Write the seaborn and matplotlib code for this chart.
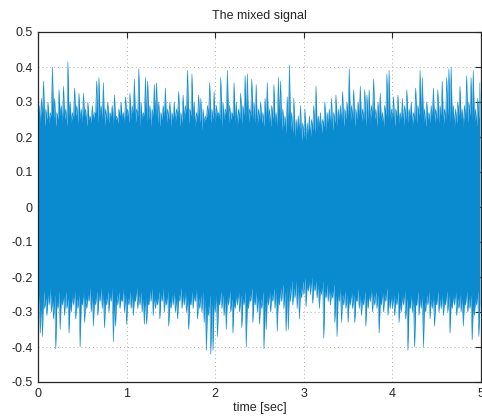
import numpy as np
import pandas as pd
import matplotlib
matplotlib.use("Agg")
import matplotlib.pyplot as plt
import seaborn as sns

# ---------------- data ----------------
title = "The mixed signal"
xlabel = "time [sec]"
x_ticks = [0, 1, 2, 3, 4, 5]
y_ticks = [-0.5, -0.4, -0.3, -0.2, -0.1, 0, 0.1, 0.2, 0.3, 0.4, 0.5]
y_tick_labels = ["-0.5", "-0.4", "-0.3", "-0.2", "-0.1", "0", "0.1", "0.2", "0.3", "0.4", "0.5"]

bin_width = 0.025  # seconds per envelope bin (200 bins over 5 s)

# tips of the upward spikes, one per bin
upper_peaks = [
    0.29, 0.31, 0.36, 0.28, 0.30, 0.27, 0.40, 0.31, 0.27, 0.335, 0.29, 0.345, 0.28, 0.415, 0.30, 0.27, 0.34, 0.29, 0.325, 0.28,
    0.325, 0.28, 0.30, 0.26, 0.29, 0.27, 0.36, 0.37, 0.29, 0.355, 0.28, 0.30, 0.27, 0.29, 0.32, 0.26, 0.28, 0.30, 0.27, 0.315,
    0.28, 0.325, 0.29, 0.365, 0.28, 0.395, 0.30, 0.27, 0.37, 0.36, 0.29, 0.28, 0.35, 0.355, 0.30, 0.27, 0.29, 0.34, 0.28, 0.30,
    0.27, 0.30, 0.28, 0.33, 0.27, 0.32, 0.29, 0.39, 0.28, 0.38, 0.30, 0.27, 0.32, 0.31, 0.28, 0.26, 0.29, 0.355, 0.28, 0.33,
    0.29, 0.27, 0.37, 0.30, 0.28, 0.39, 0.29, 0.27, 0.355, 0.30, 0.28, 0.325, 0.29, 0.375, 0.38, 0.28, 0.365, 0.30, 0.35, 0.28,
    0.30, 0.27, 0.31, 0.355, 0.28, 0.29, 0.35, 0.27, 0.37, 0.36, 0.28, 0.26, 0.315, 0.405, 0.27, 0.31, 0.25, 0.26, 0.29, 0.24,
    0.28, 0.24, 0.26, 0.25, 0.29, 0.345, 0.26, 0.27, 0.25, 0.30, 0.27, 0.28, 0.31, 0.27, 0.32, 0.28, 0.29, 0.33, 0.28, 0.30,
    0.395, 0.29, 0.335, 0.28, 0.30, 0.345, 0.28, 0.335, 0.32, 0.335, 0.29, 0.365, 0.28, 0.30, 0.325, 0.27, 0.29, 0.38, 0.39, 0.28,
    0.315, 0.28, 0.32, 0.27, 0.31, 0.29, 0.335, 0.28, 0.30, 0.27, 0.34, 0.29, 0.39, 0.37, 0.28, 0.30, 0.27, 0.29, 0.34, 0.28,
    0.335, 0.29, 0.36, 0.28, 0.37, 0.395, 0.40, 0.29, 0.28, 0.30, 0.345, 0.28, 0.29, 0.375, 0.30, 0.37, 0.39, 0.28, 0.31, 0.355,
]

# top edge of the dense part between upward spikes, one per bin
upper_base = [
    0.25, 0.24, 0.26, 0.23, 0.25, 0.24, 0.26, 0.25, 0.23, 0.25, 0.26, 0.24, 0.25, 0.23, 0.26, 0.24, 0.25, 0.26, 0.24, 0.25,
    0.24, 0.26, 0.23, 0.25, 0.24, 0.25, 0.27, 0.24, 0.26, 0.25, 0.23, 0.25, 0.24, 0.26, 0.23, 0.25, 0.24, 0.26, 0.25, 0.24,
    0.26, 0.24, 0.25, 0.27, 0.24, 0.26, 0.23, 0.25, 0.26, 0.24, 0.25, 0.23, 0.26, 0.25, 0.24, 0.23, 0.25, 0.26, 0.24, 0.25,
    0.23, 0.25, 0.24, 0.26, 0.23, 0.24, 0.25, 0.27, 0.24, 0.26, 0.25, 0.23, 0.25, 0.24, 0.22, 0.24, 0.25, 0.26, 0.24, 0.25,
    0.24, 0.26, 0.25, 0.23, 0.25, 0.27, 0.24, 0.25, 0.26, 0.24, 0.23, 0.25, 0.24, 0.26, 0.25, 0.24, 0.26, 0.25, 0.24, 0.23,
    0.25, 0.24, 0.23, 0.25, 0.24, 0.23, 0.25, 0.24, 0.23, 0.24, 0.22, 0.23, 0.21, 0.23, 0.22, 0.21, 0.20, 0.22, 0.21, 0.19,
    0.20, 0.19, 0.21, 0.20, 0.22, 0.21, 0.22, 0.23, 0.21, 0.23, 0.22, 0.24, 0.23, 0.22, 0.24, 0.23, 0.25, 0.24, 0.23, 0.25,
    0.26, 0.24, 0.25, 0.23, 0.25, 0.26, 0.24, 0.25, 0.23, 0.25, 0.24, 0.26, 0.25, 0.23, 0.25, 0.24, 0.23, 0.26, 0.25, 0.24,
    0.25, 0.23, 0.26, 0.24, 0.25, 0.23, 0.25, 0.24, 0.26, 0.23, 0.25, 0.24, 0.26, 0.25, 0.24, 0.23, 0.25, 0.24, 0.26, 0.24,
    0.25, 0.24, 0.26, 0.23, 0.25, 0.26, 0.24, 0.25, 0.23, 0.24, 0.26, 0.25, 0.23, 0.25, 0.24, 0.26, 0.25, 0.24, 0.23, 0.25,
]

# tips of the downward spikes, one per bin
lower_peaks = [
    -0.30, -0.36, -0.37, -0.29, -0.31, -0.28, -0.30, -0.32, -0.405, -0.29, -0.35, -0.28, -0.31, -0.29, -0.36, -0.30, -0.28, -0.32, -0.29, -0.40,
    -0.28, -0.33, -0.29, -0.27, -0.30, -0.34, -0.28, -0.31, -0.27, -0.29, -0.345, -0.28, -0.30, -0.27, -0.385, -0.34, -0.28, -0.29, -0.27, -0.30,
    -0.335, -0.28, -0.29, -0.31, -0.27, -0.29, -0.28, -0.30, -0.335, -0.335, -0.28, -0.27, -0.31, -0.29, -0.28, -0.32, -0.27, -0.30, -0.28, -0.34,
    -0.29, -0.28, -0.30, -0.32, -0.27, -0.29, -0.28, -0.30, -0.35, -0.28, -0.29, -0.27, -0.32, -0.29, -0.30, -0.33, -0.41, -0.31, -0.42, -0.41,
    -0.30, -0.37, -0.28, -0.29, -0.31, -0.35, -0.28, -0.30, -0.36, -0.29, -0.28, -0.30, -0.345, -0.28, -0.40, -0.29, -0.27, -0.33, -0.28, -0.30,
    -0.335, -0.29, -0.405, -0.35, -0.28, -0.30, -0.27, -0.29, -0.355, -0.28, -0.27, -0.29, -0.355, -0.35, -0.27, -0.28, -0.26, -0.29, -0.32, -0.26,
    -0.25, -0.285, -0.24, -0.25, -0.275, -0.24, -0.26, -0.29, -0.25, -0.375, -0.26, -0.27, -0.28, -0.26, -0.33, -0.37, -0.27, -0.33, -0.28, -0.29,
    -0.33, -0.28, -0.29, -0.33, -0.27, -0.29, -0.31, -0.28, -0.34, -0.29, -0.27, -0.30, -0.28, -0.29, -0.36, -0.28, -0.30, -0.27, -0.31, -0.29,
    -0.29, -0.31, -0.28, -0.33, -0.30, -0.28, -0.32, -0.41, -0.29, -0.30, -0.40, -0.28, -0.31, -0.29, -0.40, -0.30, -0.28, -0.32, -0.29, -0.34,
    -0.28, -0.30, -0.29, -0.31, -0.28, -0.30, -0.36, -0.29, -0.28, -0.31, -0.29, -0.30, -0.34, -0.28, -0.30, -0.29, -0.38, -0.31, -0.28, -0.37,
]

# bottom edge of the dense part between downward spikes, one per bin
lower_base = [
    -0.25, -0.27, -0.24, -0.26, -0.25, -0.23, -0.26, -0.25, -0.27, -0.24, -0.26, -0.25, -0.24, -0.26, -0.27, -0.25, -0.24, -0.26, -0.25, -0.27,
    -0.24, -0.26, -0.25, -0.23, -0.25, -0.26, -0.24, -0.25, -0.23, -0.25, -0.26, -0.24, -0.25, -0.23, -0.26, -0.25, -0.24, -0.26, -0.23, -0.25,
    -0.26, -0.24, -0.25, -0.26, -0.23, -0.25, -0.24, -0.26, -0.25, -0.27, -0.24, -0.23, -0.25, -0.26, -0.24, -0.25, -0.23, -0.26, -0.24, -0.27,
    -0.25, -0.24, -0.26, -0.25, -0.23, -0.25, -0.24, -0.26, -0.27, -0.24, -0.25, -0.23, -0.26, -0.25, -0.24, -0.26, -0.28, -0.25, -0.27, -0.26,
    -0.25, -0.27, -0.24, -0.25, -0.26, -0.25, -0.24, -0.26, -0.27, -0.25, -0.24, -0.25, -0.26, -0.24, -0.27, -0.25, -0.23, -0.26, -0.24, -0.25,
    -0.26, -0.24, -0.27, -0.25, -0.24, -0.25, -0.23, -0.24, -0.25, -0.23, -0.22, -0.24, -0.23, -0.22, -0.21, -0.23, -0.21, -0.22, -0.23, -0.21,
    -0.20, -0.22, -0.21, -0.20, -0.22, -0.21, -0.22, -0.23, -0.21, -0.24, -0.22, -0.23, -0.24, -0.22, -0.25, -0.24, -0.23, -0.25, -0.24, -0.25,
    -0.26, -0.24, -0.25, -0.26, -0.23, -0.25, -0.26, -0.24, -0.26, -0.25, -0.23, -0.25, -0.24, -0.25, -0.27, -0.24, -0.25, -0.23, -0.26, -0.25,
    -0.25, -0.26, -0.24, -0.27, -0.25, -0.24, -0.26, -0.28, -0.25, -0.26, -0.28, -0.24, -0.26, -0.25, -0.27, -0.25, -0.24, -0.26, -0.25, -0.27,
    -0.24, -0.26, -0.25, -0.27, -0.24, -0.25, -0.27, -0.25, -0.24, -0.26, -0.25, -0.26, -0.27, -0.24, -0.26, -0.25, -0.28, -0.26, -0.24, -0.27,
]

# ---------------- build the signal edges ----------------
n = len(upper_peaks)
times = np.arange(2 * n) * (bin_width / 2)
top_edge = np.empty(2 * n)
bottom_edge = np.empty(2 * n)
top_edge[0::2] = upper_base
top_edge[1::2] = upper_peaks
bottom_edge[0::2] = lower_peaks
bottom_edge[1::2] = lower_base
df = pd.DataFrame({"time": np.concatenate([times, times]),
                   "signal": np.concatenate([top_edge, bottom_edge]),
                   "edge": ["top"] * (2 * n) + ["bottom"] * (2 * n)})

# ---------------- style ----------------
sns.set_theme(style="white")
plt.rcParams["font.family"] = ["Liberation Sans", "DejaVu Sans"]
plt.rcParams["axes.unicode_minus"] = False

line_color = "#0a8bd0"
text_color = "#262626"

fig = plt.figure(figsize=(4.82, 4.17), dpi=100)
ax = fig.add_axes([38 / 482, 1 - 382 / 417, 443 / 482, 350 / 417])

ax.fill_between(times, bottom_edge, top_edge, color=line_color, linewidth=0, zorder=2)
sns.lineplot(data=df, x="time", y="signal", units="edge", estimator=None, sort=False,
             color=line_color, linewidth=0.4, ax=ax, zorder=3, legend=False)

ax.set_xlim(0, 5)
ax.set_ylim(-0.5, 0.5)
ax.set_xticks(x_ticks)
ax.set_xticklabels([str(v) for v in x_ticks])
ax.set_yticks(y_ticks)
ax.set_yticklabels(y_tick_labels)

ax.grid(True, linestyle=(0, (1, 3)), color="#b0b0b0", linewidth=0.7, zorder=1)
ax.set_axisbelow(True)

ax.tick_params(direction="in", length=4, width=0.8, top=True, right=True,
               colors=text_color, labelsize=9, pad=4)
for s in ax.spines.values():
    s.set_color(text_color)
    s.set_linewidth(0.9)
    s.set_zorder(5)

ax.set_title(title, fontsize=9, color=text_color, pad=9)
ax.set_xlabel(xlabel, fontsize=9, color=text_color, labelpad=2)
ax.set_ylabel("")

fig.savefig("out.png", dpi=100)
